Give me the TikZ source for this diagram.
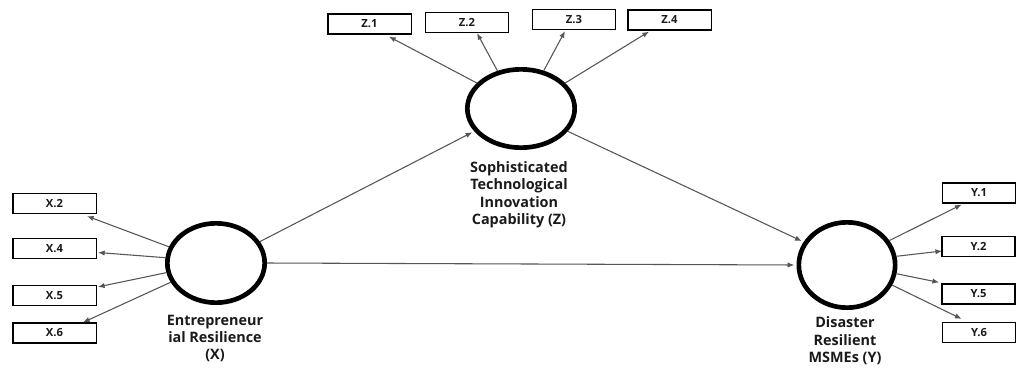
\documentclass[tikz,border=0pt]{standalone}
\usepackage{fontspec}
\setmainfont{Open Sans}
\usetikzlibrary{shapes.geometric,arrows.meta,calc}
\definecolor{arrowgray}{HTML}{555555}
\definecolor{textdark}{HTML}{1A1A1A}
\begin{document}
\begin{tikzpicture}[x=0.75pt,y=-0.75pt,
  latent/.style={ellipse,draw=black,line width=3.5pt,inner sep=0pt,fill=white},
  indbox/.style={rectangle,draw=black,line width=1.1pt,inner sep=0pt,minimum width=62.6pt,minimum height=14.8pt,
     font=\fontsize{8.4}{9}\selectfont\bfseries,text=textdark},
  ybox/.style={indbox,minimum width=55pt},
  lbl/.style={align=center,anchor=north,inner sep=0pt,text=textdark,
     font=\fontsize{10.8}{13.1}\selectfont\bfseries},
  arr/.style={draw=arrowgray,line width=0.8pt,-{Latex[length=5pt,width=4pt]}},
  arrc/.style={arr,shorten >=1.6pt}
]
\useasboundingbox (0,0) rectangle (1018,369);

% latent variables
\node[latent,minimum width=73pt,minimum height=59.5pt] (X) at (216,263) {};
\node[latent,minimum width=80.5pt,minimum height=58.75pt] (Z) at (521,108.5) {};
\node[latent,minimum width=72.25pt,minimum height=64pt] (Y) at (847,265) {};

% labels
\node[lbl] (Xl) at (215,314.5) {Entrepreneur\\ial Resilience\\(X)};
\node[lbl] (Zl) at (519,161) {Sophisticated\\Technological\\Innovation\\Capability (Z)};
\node[lbl] (Yl) at (845,316.5) {Disaster\\Resilient\\MSMEs (Y)};

% indicator boxes
\node[indbox] (x2) at (54.5,203.5) {X.2};
\node[indbox] (x4) at (54.5,248.5) {X.4};
\node[indbox] (x5) at (54.5,295.5) {X.5};
\node[indbox] (x6) at (54.5,333) {X.6};

\node[indbox] (z1) at (369.5,24) {Z.1};
\node[indbox] (z2) at (467,22.5) {Z.2};
\node[indbox] (z3) at (574,19.5) {Z.3};
\node[indbox] (z4) at (669.5,20) {Z.4};

\node[ybox] (y1) at (979,193) {Y.1};
\node[ybox] (y2) at (978.5,246.5) {Y.2};
\node[ybox] (y5) at (978.5,294) {Y.5};
\node[ybox] (y6) at (979,332.5) {Y.6};

% structural paths
\draw[arrc] (X.26.6) -- (Z.206);
\draw[arrc] (Z.334) -- (Y.152);
\draw[arrc] (X.east) -- (Y.west);

% X loadings
\draw[arr] (X.161) -- ($(x2.south east)+(-10,2)$);
\draw[arr] (X.174) -- ($(x4.east)+(1,4)$);
\draw[arr] (X.191.5) -- ($(x5.north east)+(1,2)$);
\draw[arr] (X.203.5) -- ($(x6.north east)+(-14,0)$);

% Z loadings
\draw[arr] (Z.150) -- ($(z1.south east)+(-23,2)$);
\draw[arr] (Z.122) -- ($(z2.south)+(10,0)$);
\draw[arr] (Z.59) -- ($(z3.south)+(-9,1)$);
\draw[arr] (Z.30.5) -- ($(z4.south west)+(22,1)$);

% Y loadings
\draw[arr] (Y.30) -- ($(y1.south west)+(20,1)$);
\draw[arr] (Y.10) -- ($(y2.west)+(1,4.5)$);
\draw[arr] (Y.350) -- ($(y5.north west)+(-2,-1)$);
\draw[arr] (Y.336) -- ($(y6.north west)+(20,-3)$);
\end{tikzpicture}
\end{document}
